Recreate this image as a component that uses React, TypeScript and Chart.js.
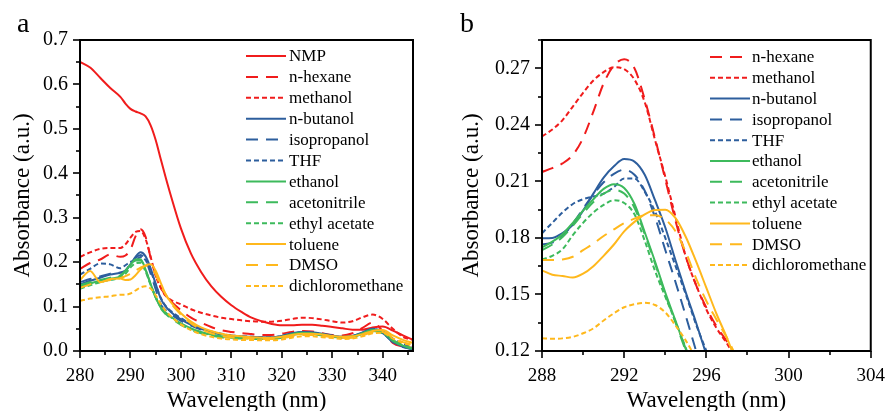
import React, { useEffect, useRef } from 'react';
import { Chart, registerables } from 'chart.js';

Chart.register(...registerables);

// ---------- Panel a data ----------
const xA = [280, 282, 284, 286, 288, 289, 290, 291, 292, 293, 294, 295, 296, 297, 298, 300, 302, 304, 306, 308, 310, 312, 314, 316, 318, 320, 322, 324, 326, 328, 330, 332, 334, 336, 338, 340, 342, 344, 346];
const nmpA = [0.651, 0.638, 0.615, 0.592, 0.572, 0.557, 0.545, 0.539, 0.535, 0.528, 0.508, 0.475, 0.432, 0.39, 0.35, 0.276, 0.219, 0.178, 0.146, 0.122, 0.103, 0.088, 0.075, 0.067, 0.061, 0.058, 0.058, 0.059, 0.059, 0.057, 0.054, 0.051, 0.048, 0.048, 0.053, 0.055, 0.046, 0.035, 0.025];
const nHexaneA = [0.185, 0.198, 0.206, 0.217, 0.212, 0.215, 0.228, 0.258, 0.274, 0.257, 0.21, 0.17, 0.143, 0.125, 0.112, 0.092, 0.075, 0.064, 0.054, 0.047, 0.043, 0.04, 0.038, 0.036, 0.036, 0.039, 0.043, 0.045, 0.044, 0.04, 0.036, 0.035, 0.04, 0.052, 0.064, 0.045, 0.018, 0.01, 0.007];
const methanolA = [0.212, 0.222, 0.23, 0.232, 0.232, 0.24, 0.255, 0.268, 0.27, 0.252, 0.212, 0.17, 0.142, 0.124, 0.115, 0.105, 0.094, 0.086, 0.08, 0.075, 0.072, 0.069, 0.067, 0.066, 0.066, 0.068, 0.072, 0.075, 0.074, 0.071, 0.067, 0.064, 0.067, 0.076, 0.082, 0.072, 0.05, 0.032, 0.025];
const nButanolA = [0.15, 0.158, 0.165, 0.172, 0.176, 0.18, 0.195, 0.212, 0.222, 0.213, 0.186, 0.151, 0.118, 0.1, 0.088, 0.071, 0.059, 0.05, 0.043, 0.038, 0.035, 0.033, 0.032, 0.031, 0.031, 0.034, 0.04, 0.043, 0.042, 0.039, 0.035, 0.032, 0.034, 0.042, 0.05, 0.04, 0.021, 0.01, 0.004];
const isopropanolA = [0.155, 0.162, 0.168, 0.174, 0.177, 0.181, 0.196, 0.209, 0.216, 0.205, 0.174, 0.139, 0.105, 0.092, 0.083, 0.068, 0.057, 0.048, 0.042, 0.037, 0.034, 0.032, 0.031, 0.03, 0.03, 0.033, 0.038, 0.041, 0.04, 0.037, 0.034, 0.031, 0.033, 0.04, 0.048, 0.04, 0.02, 0.009, 0.004];
const thfA = [0.172, 0.185, 0.197, 0.195, 0.186, 0.193, 0.2005, 0.2035, 0.2115, 0.2045, 0.18, 0.15, 0.12, 0.101, 0.09, 0.074, 0.061, 0.051, 0.044, 0.039, 0.035, 0.033, 0.032, 0.031, 0.031, 0.034, 0.039, 0.042, 0.041, 0.038, 0.034, 0.032, 0.034, 0.041, 0.049, 0.045, 0.028, 0.016, 0.01];
const ethanolA = [0.145, 0.152, 0.158, 0.163, 0.168, 0.18, 0.1945, 0.206, 0.2065, 0.183, 0.151, 0.121, 0.098, 0.086, 0.077, 0.062, 0.051, 0.043, 0.037, 0.033, 0.031, 0.03, 0.029, 0.029, 0.029, 0.032, 0.038, 0.041, 0.04, 0.037, 0.033, 0.031, 0.033, 0.04, 0.048, 0.043, 0.025, 0.012, 0.006];
const acetonitrileA = [0.148, 0.155, 0.16, 0.165, 0.17, 0.1805, 0.193, 0.2035, 0.2035, 0.182, 0.15, 0.12, 0.096, 0.083, 0.074, 0.059, 0.048, 0.04, 0.035, 0.031, 0.029, 0.028, 0.027, 0.027, 0.027, 0.03, 0.036, 0.039, 0.038, 0.035, 0.032, 0.03, 0.032, 0.038, 0.045, 0.04, 0.023, 0.011, 0.005];
const ethylAcetateA = [0.14, 0.148, 0.155, 0.16, 0.165, 0.174, 0.188, 0.1975, 0.1985, 0.1785, 0.1488, 0.1215, 0.099, 0.085, 0.076, 0.061, 0.05, 0.042, 0.036, 0.032, 0.03, 0.029, 0.028, 0.028, 0.028, 0.031, 0.037, 0.04, 0.039, 0.036, 0.032, 0.03, 0.032, 0.039, 0.046, 0.041, 0.024, 0.012, 0.006];
const tolueneA = [0.16, 0.18, 0.155, 0.162, 0.163, 0.1598, 0.161, 0.1705, 0.1835, 0.1925, 0.195, 0.1805, 0.1535, 0.127, 0.11, 0.085, 0.066, 0.053, 0.045, 0.039, 0.035, 0.033, 0.031, 0.03, 0.03, 0.032, 0.036, 0.039, 0.039, 0.037, 0.034, 0.032, 0.033, 0.038, 0.045, 0.047, 0.035, 0.025, 0.018];
const dmsoA = [0.142, 0.15, 0.155, 0.16, 0.164, 0.1686, 0.1735, 0.181, 0.1878, 0.192, 0.1898, 0.1725, 0.1465, 0.127, 0.108, 0.082, 0.062, 0.049, 0.04, 0.034, 0.031, 0.029, 0.028, 0.027, 0.027, 0.029, 0.033, 0.036, 0.036, 0.034, 0.031, 0.029, 0.03, 0.035, 0.042, 0.043, 0.03, 0.02, 0.014];
const dcmA = [0.113, 0.118, 0.121, 0.123, 0.1267, 0.1267, 0.1294, 0.1362, 0.1432, 0.1456, 0.1405, 0.1255, 0.106, 0.09, 0.078, 0.06, 0.047, 0.038, 0.032, 0.028, 0.026, 0.025, 0.025, 0.024, 0.024, 0.026, 0.03, 0.033, 0.033, 0.031, 0.029, 0.027, 0.028, 0.033, 0.04, 0.041, 0.028, 0.018, 0.012];

// ---------- Panel b data ----------
const xB = [288, 288.5, 289, 289.5, 290, 290.5, 291, 291.5, 292, 292.5, 293, 293.5, 294, 294.5, 295, 295.5, 296, 296.5, 297, 297.5, 298];
const nHexaneB = [0.215, 0.217, 0.2195, 0.224, 0.233, 0.247, 0.262, 0.2715, 0.2748, 0.27, 0.2535, 0.233, 0.211, 0.189, 0.17, 0.155, 0.143, 0.133, 0.125, 0.116, 0.108];
const methanolB = [0.2338, 0.2375, 0.2425, 0.2497, 0.257, 0.2635, 0.268, 0.2706, 0.2695, 0.264, 0.252, 0.232, 0.2125, 0.191, 0.17, 0.155, 0.142, 0.132, 0.124, 0.115, 0.106];
const nButanolB = [0.1798, 0.18, 0.1825, 0.187, 0.1945, 0.2035, 0.212, 0.218, 0.2218, 0.2205, 0.2135, 0.2, 0.1855, 0.168, 0.151, 0.135, 0.118, 0.101, 0.085, 0.07, 0.055];
const isopropanolB = [0.1765, 0.1775, 0.181, 0.1875, 0.1955, 0.203, 0.2095, 0.214, 0.2162, 0.2135, 0.205, 0.191, 0.1736, 0.1565, 0.1385, 0.12, 0.102, 0.085, 0.07, 0.055, 0.04];
const thfB = [0.1825, 0.188, 0.1935, 0.198, 0.2005, 0.202, 0.2035, 0.207, 0.2115, 0.2115, 0.2045, 0.194, 0.18, 0.165, 0.15, 0.134, 0.12, 0.105, 0.09, 0.075, 0.06];
const ethanolB = [0.175, 0.178, 0.182, 0.188, 0.1945, 0.2005, 0.206, 0.2085, 0.2065, 0.198, 0.183, 0.1675, 0.151, 0.136, 0.121, 0.106, 0.091, 0.076, 0.061, 0.046, 0.031];
const acetonitrileB = [0.1735, 0.1765, 0.1805, 0.1865, 0.193, 0.199, 0.2035, 0.2055, 0.2035, 0.196, 0.182, 0.1665, 0.15, 0.135, 0.12, 0.105, 0.09, 0.075, 0.06, 0.045, 0.03];
const ethylAcetateB = [0.1685, 0.1705, 0.174, 0.1815, 0.188, 0.1935, 0.1975, 0.2, 0.1985, 0.1925, 0.1785, 0.1625, 0.1488, 0.1355, 0.1215, 0.107, 0.092, 0.077, 0.062, 0.047, 0.032];
const tolueneB = [0.1628, 0.1605, 0.1598, 0.159, 0.161, 0.165, 0.1705, 0.1765, 0.1835, 0.1885, 0.1925, 0.1948, 0.195, 0.1905, 0.1805, 0.1675, 0.1535, 0.1395, 0.127, 0.113, 0.1];
const dmsoB = [0.1683, 0.1683, 0.1686, 0.17, 0.1735, 0.177, 0.181, 0.1845, 0.1878, 0.1902, 0.192, 0.192, 0.1898, 0.1835, 0.1725, 0.1585, 0.1465, 0.1365, 0.127, 0.116, 0.105];
const dcmB = [0.1267, 0.1265, 0.1267, 0.1275, 0.1294, 0.132, 0.1362, 0.14, 0.1432, 0.1448, 0.1456, 0.1444, 0.1405, 0.1335, 0.1255, 0.116, 0.106, 0.096, 0.086, 0.076, 0.066];

// ---------- tick labels ----------
const xTicksA = [280, 290, 300, 310, 320, 330, 340];
const yTicksA = [0, 0.1, 0.2, 0.3, 0.4, 0.5, 0.6, 0.7];
const xTicksB = [288, 292, 296, 300, 304];
const yTicksB = [0.12, 0.15, 0.18, 0.21, 0.24, 0.27];

// ---------- styles ----------
const RED = '#f01c1c';
const BLUE = '#2d5e9d';
const GREEN = '#3dba5c';
const ORANGE = '#ffb81c';
const SOLID: number[] = [];
const DASH = [12, 8];
const DOT = [5, 3];

const STYLE: Record<string, { color: string; dash: number[] }> = {
  'NMP': { color: RED, dash: SOLID },
  'n-hexane': { color: RED, dash: DASH },
  'methanol': { color: RED, dash: DOT },
  'n-butanol': { color: BLUE, dash: SOLID },
  'isopropanol': { color: BLUE, dash: DASH },
  'THF': { color: BLUE, dash: DOT },
  'ethanol': { color: GREEN, dash: SOLID },
  'acetonitrile': { color: GREEN, dash: DASH },
  'ethyl acetate': { color: GREEN, dash: DOT },
  'toluene': { color: ORANGE, dash: SOLID },
  'DMSO': { color: ORANGE, dash: DASH },
  'dichloromethane': { color: ORANGE, dash: DOT },
};

const seriesA: [string, number[]][] = [
  ['NMP', nmpA], ['n-hexane', nHexaneA], ['methanol', methanolA], ['n-butanol', nButanolA],
  ['isopropanol', isopropanolA], ['THF', thfA], ['ethanol', ethanolA], ['acetonitrile', acetonitrileA],
  ['ethyl acetate', ethylAcetateA], ['toluene', tolueneA], ['DMSO', dmsoA], ['dichloromethane', dcmA],
];
const seriesB: [string, number[]][] = [
  ['n-hexane', nHexaneB], ['methanol', methanolB], ['n-butanol', nButanolB],
  ['isopropanol', isopropanolB], ['THF', thfB], ['ethanol', ethanolB], ['acetonitrile', acetonitrileB],
  ['ethyl acetate', ethylAcetateB], ['toluene', tolueneB], ['DMSO', dmsoB], ['dichloromethane', dcmB],
];

const FONT = "'Liberation Serif', 'Times New Roman', serif";

function buildDatasets(xs: number[], series: [string, number[]][]) {
  return series.map(([name, ys]) => ({
    label: name,
    data: xs.map((x, i) => ({ x, y: ys[i] })),
    borderColor: STYLE[name].color,
    borderDash: STYLE[name].dash,
    borderWidth: 2,
    pointRadius: 0,
    fill: false,
    cubicInterpolationMode: 'monotone' as const,
  })).reverse();
}

type PanelCfg = {
  label: string;
  labelX: number;
  xMin: number; xMax: number; xMinor: number;
  yMin: number; yMax: number; yMinor: number;
  xTicks: number[]; yTicks: number[]; yDigits: number;
  yAxisWidth: number; padRight: number; yTitlePad: number;
  legendNames: string[]; legLineX: number; legTextX: number; legY: number; legStep: number;
};

function decorPlugin(cfg: PanelCfg) {
  return {
    id: 'decor',
    afterDatasetsDraw(chart: any) {
      const { ctx, chartArea: a, scales } = chart;
      ctx.save();
      ctx.setLineDash([]);
      ctx.strokeStyle = '#000';
      ctx.lineWidth = 2;
      ctx.strokeRect(a.left, a.top, a.right - a.left, a.bottom - a.top);
      ctx.lineWidth = 1.6;
      const nx = Math.round((cfg.xMax - cfg.xMin) / cfg.xMinor);
      for (let i = 0; i <= nx; i++) {
        const v = cfg.xMin + i * cfg.xMinor;
        if (v > scales.x.max + 1e-9) break;
        const px = Math.round(scales.x.getPixelForValue(v));
        const len = i % 2 === 0 ? 7 : 4;
        ctx.beginPath();
        ctx.moveTo(px, a.bottom);
        ctx.lineTo(px, a.bottom + len);
        ctx.stroke();
      }
      const ny = Math.round((cfg.yMax - cfg.yMin) / cfg.yMinor);
      for (let i = 0; i <= ny; i++) {
        const v = cfg.yMin + i * cfg.yMinor;
        const py = Math.round(scales.y.getPixelForValue(v));
        const len = i % 2 === 0 ? 7 : 4;
        ctx.beginPath();
        ctx.moveTo(a.left, py);
        ctx.lineTo(a.left - len, py);
        ctx.stroke();
      }
      ctx.font = `17px ${FONT}`;
      ctx.textBaseline = 'middle';
      ctx.textAlign = 'left';
      cfg.legendNames.forEach((name, i) => {
        const y = cfg.legY + i * cfg.legStep;
        const st = STYLE[name];
        ctx.strokeStyle = st.color;
        ctx.lineWidth = 2;
        ctx.setLineDash(st.dash);
        ctx.beginPath();
        ctx.moveTo(cfg.legLineX, y);
        ctx.lineTo(cfg.legLineX + 40, y);
        ctx.stroke();
        ctx.setLineDash([]);
        ctx.fillStyle = '#000';
        ctx.fillText(name, cfg.legTextX, y + 1);
      });
      ctx.font = `28px ${FONT}`;
      ctx.textBaseline = 'alphabetic';
      ctx.fillText(cfg.label, cfg.labelX, 32);
      ctx.restore();
    },
  };
}

function makeConfig(xs: number[], series: [string, number[]][], cfg: PanelCfg): any {
  const tickFont = { family: FONT, size: 19 };
  const titleFont = { family: FONT, size: 23 };
  return {
    type: 'line',
    data: { datasets: buildDatasets(xs, series) },
    options: {
      animation: false,
      responsive: false,
      maintainAspectRatio: false,
      events: [],
      layout: { padding: { left: 0, right: cfg.padRight, top: 40, bottom: 0 } },
      plugins: { legend: { display: false }, tooltip: { enabled: false } },
      scales: {
        x: {
          type: 'linear',
          min: cfg.xMin,
          max: cfg.xMax,
          afterBuildTicks: (s: any) => { s.ticks = cfg.xTicks.map((v) => ({ value: v })); },
          afterFit: (s: any) => { s.height = 60; },
          grid: { display: true, drawOnChartArea: false, drawTicks: true, tickLength: 8, color: 'transparent', tickColor: 'transparent' },
          border: { display: false },
          ticks: { font: tickFont, color: '#000', padding: 6, maxRotation: 0, autoSkip: false, callback: (v: any) => String(v) },
          title: { display: true, text: 'Wavelength (nm)', font: titleFont, color: '#000', padding: { top: 0, bottom: -4 } },
        },
        y: {
          type: 'linear',
          min: cfg.yMin,
          max: cfg.yMax,
          afterBuildTicks: (s: any) => { s.ticks = cfg.yTicks.map((v) => ({ value: v })); },
          afterFit: (s: any) => { s.width = cfg.yAxisWidth; },
          grid: { display: true, drawOnChartArea: false, drawTicks: true, tickLength: 8, color: 'transparent', tickColor: 'transparent' },
          border: { display: false },
          ticks: { font: { family: FONT, size: 20 }, color: '#000', padding: 4, autoSkip: false, callback: (v: any) => Number(v).toFixed(cfg.yDigits) },
          title: { display: true, text: 'Absorbance (a.u.)', font: titleFont, color: '#000', padding: { top: cfg.yTitlePad, bottom: 0 } },
        },
      },
    },
    plugins: [decorPlugin(cfg)],
  };
}

const cfgA: PanelCfg = {
  label: 'a', labelX: 17,
  xMin: 280, xMax: 346, xMinor: 5,
  yMin: 0, yMax: 0.7, yMinor: 0.05,
  xTicks: xTicksA, yTicks: yTicksA, yDigits: 1,
  yAxisWidth: 80, padRight: 32, yTitlePad: 9,
  legendNames: seriesA.map((s) => s[0]), legLineX: 246, legTextX: 289, legY: 56, legStep: 20.9,
};
const cfgB: PanelCfg = {
  label: 'b', labelX: 15,
  xMin: 288, xMax: 304, xMinor: 2,
  yMin: 0.12, yMax: 0.285, yMinor: 0.015,
  xTicks: xTicksB, yTicks: yTicksB, yDigits: 2,
  yAxisWidth: 97, padRight: 17, yTitlePad: 13,
  legendNames: seriesB.map((s) => s[0]), legLineX: 265, legTextX: 307, legY: 57, legStep: 20.8,
};

function Panel({ xs, series, cfg, left, width }: { xs: number[]; series: [string, number[]][]; cfg: PanelCfg; left: number; width: number }) {
  const ref = useRef<HTMLCanvasElement | null>(null);
  useEffect(() => {
    if (!ref.current) return;
    const chart = new Chart(ref.current, makeConfig(xs, series, cfg));
    return () => chart.destroy();
  }, []);
  return (
    <canvas
      ref={ref}
      width={width}
      height={411}
      style={{ position: 'absolute', left, top: 0, width, height: 411 }}
    />
  );
}

export default function App() {
  return (
    <div style={{ position: 'fixed', left: 0, top: 0, width: 891, height: 411, background: '#fff', overflow: 'hidden' }}>
      <Panel xs={xA} series={seriesA} cfg={cfgA} left={0} width={445} />
      <Panel xs={xB} series={seriesB} cfg={cfgB} left={445} width={446} />
    </div>
  );
}
